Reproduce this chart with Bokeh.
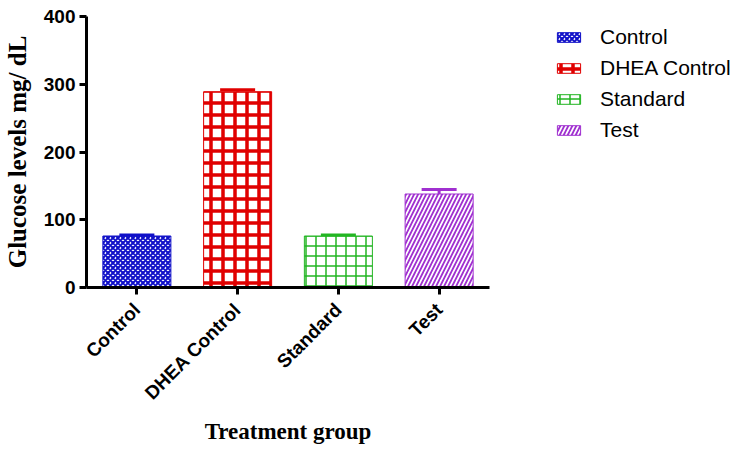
import math
from bokeh.plotting import figure
from bokeh.models import (ColumnDataSource, FactorRange, Legend, LegendItem, Whisker, TeeHead,
                          SingleIntervalTicker)
from bokeh.embed import file_html
from bokeh.resources import INLINE

groups = ["Control", "DHEA Control", "Standard", "Test"]
means = [76, 289, 76, 138]
sems = [1.5, 3, 1.5, 6.5]
colors = ["#1010c8", "#e00000", "#22b522", "#a030d0"]
hatches = ["diagonal_cross", "cross", "cross", "right_diagonal_line"]
hatch_scales = [5, 12, 10, 8]
hatch_weights = [2, 3.5, 1.5, 1.8]

p = figure(frame_width=403, frame_height=271, x_range=FactorRange(*groups), y_range=(0, 400),
           output_backend="svg", toolbar_location=None,
           min_border_left=79, min_border_top=16, min_border_right=10, min_border_bottom=10)
p.outline_line_color = None
p.xgrid.grid_line_color = None
p.ygrid.grid_line_color = None
p.x_range.range_padding = 0

renderers = []
for g, m, c, h, hs, hw in zip(groups, means, colors, hatches, hatch_scales, hatch_weights):
    src = ColumnDataSource(dict(x=[g], top=[m]))
    r = p.vbar(x="x", top="top", width=0.675, source=src, fill_color="white",
               line_color=c, line_width=1, hatch_pattern=h, hatch_color=c,
               hatch_scale=hs, hatch_weight=hw)
    renderers.append(r)

wsrc = ColumnDataSource(dict(x=groups, upper=[m + s for m, s in zip(means, sems)],
                             lower=means, color=colors))
w = Whisker(base="x", upper="upper", lower="lower", source=wsrc, line_color="color",
            line_width=3, upper_head=TeeHead(size=35, line_width=3, line_color="color"),
            lower_head=None)
p.add_layout(w)

font_sans = "Liberation Sans"
p.yaxis.ticker = SingleIntervalTicker(interval=100)
p.yaxis.minor_tick_line_color = None
for ax in (p.xaxis[0], p.yaxis[0]):
    ax.axis_line_width = 3
    ax.axis_line_color = "black"
    ax.major_tick_line_width = 3
    ax.major_tick_line_color = "black"
    ax.major_tick_out = 7
    ax.major_tick_in = 0
    ax.major_label_text_font = font_sans
    ax.major_label_text_font_style = "bold"
    ax.major_label_text_font_size = "19px"
    ax.major_label_text_color = "black"
    ax.axis_label_text_font = "Liberation Serif"
    ax.axis_label_text_font_style = "bold"
    ax.axis_label_text_color = "black"

p.yaxis.axis_label = "Glucose levels mg/ dL"
p.yaxis.axis_label_text_font_size = "25px"
p.yaxis.major_label_standoff = 4
p.yaxis.axis_label_standoff = 10
p.xaxis.axis_label = "Treatment group"
p.xaxis.axis_label_text_font_size = "23px"
p.xaxis.major_label_orientation = math.pi / 4
p.xaxis.major_label_standoff = 12
p.xaxis.axis_label_standoff = 5

items = [LegendItem(label=g, renderers=[r]) for g, r in zip(groups, renderers)]
legend = Legend(items=items, location=(65, 145), orientation="vertical",
                label_text_font=font_sans, label_text_font_size="21px",
                label_text_color="black", glyph_width=29, glyph_height=12,
                label_height=21, label_standoff=17, spacing=7, padding=0, margin=0,
                border_line_color=None, background_fill_alpha=0)
p.add_layout(legend, "right")

open("out.html", "w").write(file_html(p, INLINE))
